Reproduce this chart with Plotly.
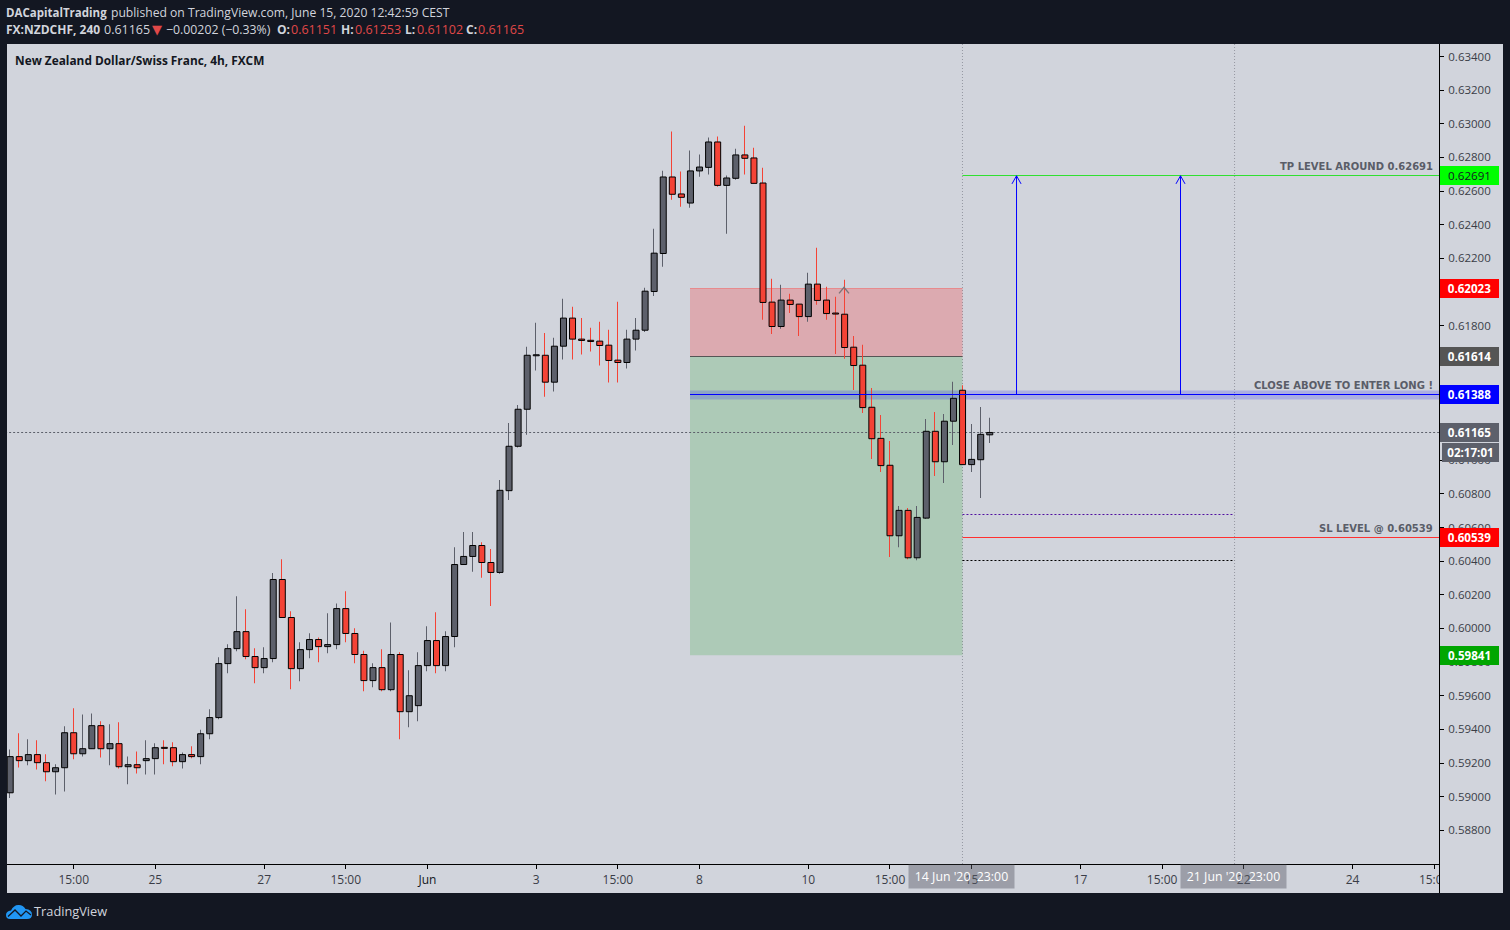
import math
import plotly.graph_objects as go

opens = [.59023,.59238,.59214,.59250,.59202,.59148,.59172,.59380,.59255,.59285,
         .59422,.59285,.59315,.59178,.59190,.59214,.59226,.59293,.59291,.59208,
         .59250,.59238,.59374,.59470,.59791,.59880,.59981,.59833,.59767,.59821,
         .60291,.60065,.59761,.59874,.59934,.59892,.59904,.60118,.59970,.59845,
         .59690,.59767,.59636,.59845,.59505,.59541,.59779,.59928,.59779,.59952,
         .60380,.60428,.60493,.60392,.60333,.60819,.61083,.61303,.61621,.61624,
         .61464,.61678,.61845,.61720,.61713,.61708,.61684,.61595,.61581,.61720,
         .61773,.62003,.62229,.62684,.62583,.62529,.62720,.62741,.62892,.62634,
         .62676,.62815,.62797,.62648,.61940,.61795,.61952,.61928,.61854,.62047,
         .61952,.61875,.61868,.61672,.61565,.61315,.61130,.60970,.60551,.60702,
         .60420,.60656,.61172,.60991,.61232,.61416,.60974,.61003,.61151]
closes = [.59238,.59214,.59250,.59202,.59148,.59172,.59380,.59255,.59285,.59422,
          .59285,.59315,.59178,.59190,.59172,.59226,.59291,.59287,.59208,.59250,
          .59238,.59374,.59470,.59791,.59880,.59981,.59833,.59767,.59821,.60291,
          .60065,.59761,.59874,.59934,.59892,.59904,.60118,.59970,.59845,.59690,
          .59767,.59636,.59845,.59505,.59600,.59779,.59928,.59779,.59952,.60380,
          .60428,.60493,.60392,.60333,.60821,.61083,.61303,.61624,.61627,.61464,
          .61678,.61845,.61720,.61712,.61706,.61682,.61593,.61581,.61720,.61773,
          .62005,.62231,.62684,.62581,.62563,.62720,.62743,.62892,.62634,.62678,
          .62815,.62795,.62646,.61938,.61795,.61952,.61926,.61854,.62047,.61950,
          .61872,.61869,.61670,.61563,.61313,.61128,.60968,.60551,.60702,.60420,
          .60660,.61172,.60991,.61232,.61368,.60974,.61005,.61154,.61165]
highs = [.59281,.59377,.59341,.59335,.59252,.59192,.59418,.59525,.59489,.59495,
         .59448,.59430,.59442,.59239,.59269,.59335,.59317,.59335,.59323,.59263,
         .59299,.59398,.59519,.59829,.59906,.60192,.60114,.59882,.59888,.60329,
         .60412,.60102,.59918,.59971,.59946,.60091,.60148,.60221,.60001,.59868,
         .59793,.59876,.60035,.59858,.59751,.59858,.60013,.60096,.59983,.60483,
         .60573,.60573,.60513,.60472,.60882,.61222,.61329,.61674,.61817,.61757,
         .61728,.61960,.61912,.61846,.61787,.61823,.61775,.61942,.61775,.61846,
         .62025,.62376,.62721,.62954,.62716,.62841,.62817,.62918,.62924,.62692,
         .62852,.62989,.62858,.62739,.62079,.62043,.61989,.61928,.62114,.62263,
         .62031,.61972,.62073,.61739,.61686,.61430,.61269,.61114,.60728,.60716,
         .60728,.61245,.61287,.61275,.61466,.61446,.61216,.61317,.61253]
lows = [.58992,.59174,.59186,.59162,.59091,.59013,.59031,.59222,.59239,.59285,
        .59233,.59186,.59168,.59073,.59138,.59132,.59132,.59192,.59180,.59168,
        .59228,.59192,.59341,.59460,.59733,.59864,.59817,.59674,.59733,.59799,
        .60065,.59638,.59686,.59823,.59799,.59852,.59876,.59918,.59793,.59626,
        .59650,.59626,.59626,.59341,.59412,.59448,.59745,.59733,.59745,.59888,
        .60380,.60337,.60301,.60134,.60325,.60763,.61075,.61152,.61533,.61378,
        .61408,.61599,.61599,.61628,.61646,.61563,.61462,.61462,.61545,.61652,
        .61763,.61977,.62150,.62549,.62507,.62501,.62686,.62698,.62626,.62347,
        .62668,.62698,.62646,.61835,.61751,.61781,.61876,.61739,.61823,.61924,
        .61835,.61632,.61603,.61418,.61281,.61007,.60930,.60424,.60483,.60412,
        .60406,.60650,.60906,.60864,.61091,.60974,.60930,.60775,.61102]

time_tick_bars = [7, 16, 28, 37, 46, 58, 67, 76, 88, 97, 106, 118, 127, 136, 148, 157]
time_tick_text = ["15:00", "25", "27", "15:00", "<span style='color:#131722'>Jun</span>", "3", "15:00", "8", "10", "15:00",
                  "15", "17", "15:00", "22", "24", "15:00"]
price_ticks = [0.588 + 0.002 * i for i in range(24)]

last_price = 0.61165
stop_top = 0.62023
entry_line = 0.61614
target_bottom = 0.59841
tp_level = 0.62691
sl_level = 0.60539
long_level = 0.61388
band_top, band_bottom = 0.61414, 0.61361
purple_level, black_level = 0.60678, 0.60405
box_start_bar, box_end_bar, range_end_bar = 74.95, 104.99, 134.99
arrow_bars = [110.95, 129.03]
y_low, y_high = 0.585996, 0.634745

DARK = "#131722"
PANEL = "#d1d4dc"
UP = "#5d606b"
DOWN = "#f44336"
FONT = "Open Sans"

W, H = 1510, 930
L, R, T, B = 7, 1439, 44, 864
BAR0, BAR_PX = 10.2, 9.07

def px(x):
    return (x - L) / (R - L)

def py(y):
    return (B - y) / (B - T)

def snap(value):
    """Nudge a price so that a 1px line on it falls on one row of pixels."""
    scale = (y_high - y_low) / (B - T)
    row = T + (y_high - value) / scale
    return y_high - (math.floor(row) + 0.5 - T) * scale

bars = list(range(len(opens)))
body_high = [max(o, c) for o, c in zip(opens, closes)]
body_low = [min(o, c) for o, c in zip(opens, closes)]
colors = [UP if c >= o else DOWN for o, c in zip(opens, closes)]

fig = go.Figure()
fig.add_trace(go.Bar(
    x=bars, base=lows, y=[h - l for h, l in zip(highs, lows)], width=0.001, offset=-0.5 / BAR_PX,
    marker=dict(color=colors, line=dict(width=0)), hoverinfo="skip", showlegend=False))
fig.add_trace(go.Bar(
    x=bars, base=body_low, y=[h - l for h, l in zip(body_high, body_low)], width=6 / BAR_PX,
    marker=dict(color=colors, line=dict(color="#000000", width=1)), hoverinfo="skip", showlegend=False))

# blue long arrows
head_dx = 0.5
head_dy = 0.00048
ax, ay = [], []
for b in arrow_bars:
    ax += [b, b, None, b - head_dx, b, b + head_dx, None]
    ay += [long_level, tp_level, None, tp_level - head_dy, tp_level, tp_level - head_dy, None]
fig.add_trace(go.Scatter(x=ax, y=ay, mode="lines", line=dict(color="#0000ff", width=1),
                         hoverinfo="skip", showlegend=False))
# small gray arrow on the stop zone
fig.add_trace(go.Scatter(x=[91.38, 91.93, 92.48], y=[0.61992, 0.62028, 0.61992], mode="lines",
                         line=dict(color="#7d7478", width=1.4), hoverinfo="skip", showlegend=False))

shapes = []
def rect(x0, x1, y0, y1, color, layer="below"):
    shapes.append(dict(type="rect", xref="paper", yref="paper", x0=px(x0), x1=px(x1),
                       y0=py(y0), y1=py(y1), fillcolor=color, line=dict(width=0), layer=layer))

rect(L, 1503, B, 893, PANEL)
rect(R, 1503, T, 893, PANEL)
rect(R + 1, 1503, B + 1, 893, PANEL, layer="above")
shapes.append(dict(type="line", xref="paper", yref="paper", x0=px(R + .5), x1=px(R + .5),
                   y0=py(T), y1=py(893), line=dict(color="#000000", width=1), layer="above"))

def drect(x0, x1, y0, y1, color, layer="below"):
    shapes.append(dict(type="rect", xref="x", yref="y", x0=x0, x1=x1, y0=y0, y1=y1,
                       fillcolor=color, line=dict(width=0), layer=layer))

def dline(x0, x1, y, color, dash="solid", layer="below", width=1):
    yy = snap(y)
    shapes.append(dict(type="line", xref="x", yref="y", x0=x0, x1=x1, y0=yy, y1=yy,
                       line=dict(color=color, width=width, dash=dash), layer=layer))

xmax = (R - BAR0) / BAR_PX
drect(box_start_bar, box_end_bar, entry_line, stop_top, "rgba(255,37,37,0.24)")
drect(box_start_bar, box_end_bar, target_bottom, entry_line, "rgba(0,152,0,0.167)")
dline(box_start_bar, box_end_bar, stop_top, "rgba(240,110,110,0.6)")
dline(box_start_bar, box_end_bar, entry_line, "#555555")
drect(box_start_bar, xmax, band_bottom, band_top, "rgba(0,0,255,0.18)")
dline(box_start_bar, xmax, long_level, "#0000ff", layer="above")
dline(box_end_bar, xmax, tp_level, "#30e030")
dline(box_end_bar, xmax, sl_level, "#ff3030")
dline(box_end_bar, range_end_bar, purple_level, "#5010a0", dash="2px,2px")
dline(box_end_bar, range_end_bar, black_level, "#000000", dash="2px,2px")
dline(-1, xmax, last_price, UP, dash="2px,2px")
for b in (box_end_bar, range_end_bar):
    shapes.append(dict(type="line", xref="x", yref="paper", x0=b, x1=b, y0=0, y1=1,
                       line=dict(color="#9598a1", width=1, dash="1px,2px"), layer="below"))

# TradingView logo
def pth(cmds):
    out = []
    for c in cmds:
        if isinstance(c, str):
            out.append(c)
        else:
            out.append(f"{px(c[0]):.6f},{py(c[1]):.6f}")
    return " ".join(out)

logo = pth(["M", (6, 915), "Q", (6, 911), (11, 910.5), "Q", (14, 904.5), (19, 905),
            "Q", (23, 905), (25.5, 909), "Q", (32, 909.5), (32, 914.5), "Q", (32, 919), (27, 919),
            "L", (10, 919), "Q", (6, 919), (6, 915), "Z"])
shapes.append(dict(type="path", xref="paper", yref="paper", path=logo, fillcolor="#2196f3",
                   line=dict(width=0), layer="above"))
zig = pth(["M", (8, 916.5), "L", (15, 910), "L", (21, 916), "L", (26, 911), "L", (31, 915)])
shapes.append(dict(type="path", xref="paper", yref="paper", path=zig,
                   line=dict(color=DARK, width=1.3), layer="above"))

ann = []
def text(x, y, s, size=12, color="#d1d4dc", anchor="left", font=FONT):
    ann.append(dict(xref="paper", yref="paper", x=px(x), y=py(y), text=s, showarrow=False,
                    xanchor=anchor, yanchor="middle", align=anchor,
                    font=dict(family=font, size=size, color=color), borderpad=0))

RED = "#e04848"
text(5, 13, "<b>DACapitalTrading</b>", 11.5)
text(109.5, 13, "published on TradingView.com, June 15, 2020 12:42:59 CEST", 12.15)
text(5, 29.5, "<b>FX:NZDCHF, 240</b>", 12)
text(102.5, 29.5, "0.61165", 12.5)
text(150.5, 29.5, "▼", 13, color=RED, font="DejaVu Sans")
text(165, 29.5, "−0.00202 (−0.33%)", 12.3)
for xl, lab, xv, val in ((276, "O:", 290, "0.61151"), (340, "H:", 354, "0.61253"),
                         (404, "L:", 416, "0.61102"), (465, "C:", 477, "0.61165")):
    text(xl, 29.5, f"<b>{lab}</b>", 12)
    text(xv, 29.5, val, 12.5, color=RED)
text(13.5, 59.5, "<b>New Zealand Dollar/Swiss Franc, 4h, FXCM</b>", 11.85, color=DARK)
text(33, 911, "TradingView", 12.8, color="#d1d4dc")

for yy, s in ((166.5, "TP LEVEL AROUND 0.62691"), (385.5, "CLOSE ABOVE TO ENTER LONG !"),
              (528.5, "SL LEVEL @ 0.60539")):
    text(1433.5, yy, f"<b>{s}</b>", 10, color="#5a5d68", anchor="right", font="DejaVu Sans")

def price_label(value, bg, fg="#ffffff", bold=True, label=None, yshift=0, x0=R + 1, x1=1499):
    t = label or f"{value:.5f}"
    ann.append(dict(xref="paper", yref="y", x=px(x0), y=value, yshift=yshift, text=f"<b>{t}</b>" if bold else t,
                    showarrow=False, xanchor="left", yanchor="middle", width=x1 - x0, height=19,
                    bgcolor=bg, borderpad=0, borderwidth=0, align="center",
                    font=dict(family=FONT, size=11.6, color=fg)))

price_label(tp_level, "#00ff00", fg=DARK, bold=False)
price_label(stop_top, "#ff0000")
price_label(entry_line, "#555555")
price_label(long_level, "#0000ff")
price_label(last_price, UP)
price_label(last_price, UP, label="02:17:01", yshift=-20, x0=1442)
price_label(sl_level, "#ff0000")
price_label(target_bottom, "#00a600")

def date_pill(bar, s):
    cx = BAR0 + BAR_PX * bar
    ann.append(dict(xref="paper", yref="paper", x=px(cx), y=py(876.5), text=s, showarrow=False,
                    xanchor="center", yanchor="middle", width=105, height=23, borderpad=0,
                    bgcolor="rgba(90,93,105,0.45)", yshift=0,
                    font=dict(family=FONT, size=12.3, color="#ffffff")))

date_pill(104.9, "14 Jun '20  23:00")
date_pill(134.9, "21 Jun '20  23:00")

fig.update_layout(
    width=W, height=H, margin=dict(l=L, r=W - R, t=T, b=H - B, pad=0),
    paper_bgcolor=DARK, plot_bgcolor=PANEL, showlegend=False, hovermode=False,
    barmode="overlay", shapes=shapes, annotations=ann, dragmode=False,
    font=dict(family=FONT, size=12, color="#131722"),
    xaxis=dict(range=[(L - BAR0) / BAR_PX, xmax], tickmode="array", tickvals=time_tick_bars,
               ticktext=time_tick_text, ticks="outside", ticklen=4, tickcolor="#000000",
               showgrid=False, zeroline=False, showline=True, linecolor="#000000", linewidth=1,
               tickangle=0, ticklabelstandoff=1,
               tickfont=dict(family=FONT, size=12, color="#3a3d47")),
    yaxis=dict(range=[y_low, y_high], side="right", tickmode="array", tickvals=price_ticks,
               tickformat=".5f", ticks="outside", ticklen=4, tickcolor="#000000", showgrid=False,
               zeroline=False, showline=False, ticklabelstandoff=2,
               tickfont=dict(family=FONT, size=11.5, color="#3a3d47")),
)

fig.write_html("out.html", config=dict(displayModeBar=False),
               post_script="document.body.style.margin='0';document.body.style.background='#131722';document.body.style.overflow='hidden';")
